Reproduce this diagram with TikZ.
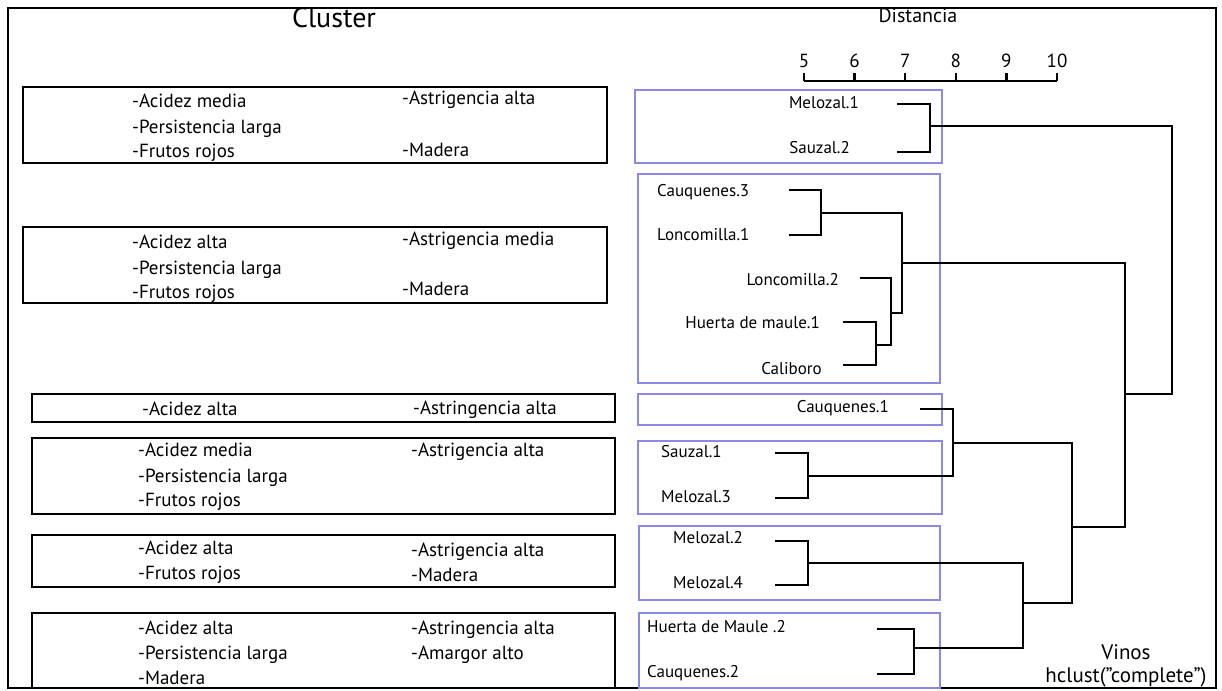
\documentclass[tikz,border=0pt]{standalone}
\usepackage{fontspec}
\setmainfont{PT Sans}
\usepackage{xcolor}
\definecolor{cajaazul}{RGB}{138,138,230}
\usepackage{tikz}
\usetikzlibrary{calc}
\newcommand{\tamrasgo}{\fontsize{19}{23}\selectfont}
\newcommand{\tamvino}{\fontsize{17}{21}\selectfont}
\tikzset{
    texto/.style={inner sep=0pt, anchor=base},
    rasgo/.style={texto, font=\tamrasgo, anchor=base west},
    vino/.style={texto, font=\tamvino, anchor=base west},
    vinoder/.style={texto, font=\tamvino, anchor=base east},
    caja/.style={draw, line width=2.5pt},
    grupo/.style={draw=cajaazul, line width=2.2pt},
    rama/.style={draw, line width=2.5pt},
    marco/.style={draw, line width=2.5pt}
}
\begin{document}
\begin{tikzpicture}[x=1pt, y=-1pt]
          \useasboundingbox (0,0) rectangle (1222,690);
          \draw[marco] (8,8) rectangle (1216,688);

          \node[texto, font=\fontsize{28}{30}\selectfont] (cluster) at (334,28) {Cluster};
          \node[texto, font=\fontsize{20}{22}\selectfont] (distancia) at (918,23) {Distancia};

          \draw[rama] (804,81) -- (1057,81);
          \foreach \d [count=\i from 0] in {5,...,10} {
              \draw[rama] (804+50.6*\i,73) -- (804+50.6*\i,81);
              \node[texto, font=\fontsize{19}{22}\selectfont] (eje\d) at (804+50.6*\i,68) {\d};
          }

          \draw[caja] (23,87) rectangle (607,163);
          \node[rasgo] (a1) at (132,107) {-Acidez media};
          \node[rasgo] (a2) at (132,133) {-Persistencia larga};
          \node[rasgo] (a3) at (132,157) {-Frutos rojos};
          \node[rasgo] (a4) at (402,105) {-Astrigencia alta};
          \node[rasgo] (a5) at (402,156) {-Madera};

          \draw[caja] (23,227) rectangle (607,303);
          \node[rasgo] (b1) at (132,248) {-Acidez alta};
          \node[rasgo] (b2) at (132,274) {-Persistencia larga};
          \node[rasgo] (b3) at (132,298) {-Frutos rojos};
          \node[rasgo] (b4) at (402,245) {-Astrigencia media};
          \node[rasgo] (b5) at (402,295) {-Madera};

          \draw[caja] (32,394) rectangle (615,422);
          \node[rasgo] (c1) at (142,415) {-Acidez alta};
          \node[rasgo] (c2) at (413,414) {-Astringencia alta};

          \draw[caja] (32,438) rectangle (615,514);
          \node[rasgo] (d1) at (138,456) {-Acidez media};
          \node[rasgo] (d2) at (138,482) {-Persistencia larga};
          \node[rasgo] (d3) at (138,506) {-Frutos rojos};
          \node[rasgo] (d4) at (411,456) {-Astrigencia alta};

          \draw[caja] (32,535) rectangle (615,587);
          \node[rasgo] (e1) at (138,554) {-Acidez alta};
          \node[rasgo] (e2) at (138,579) {-Frutos rojos};
          \node[rasgo] (e3) at (411,556) {-Astrigencia alta};
          \node[rasgo] (e4) at (411,581) {-Madera};

          \draw[caja] (32,613) rectangle (615,688);
          \node[rasgo] (f1) at (138,634) {-Acidez alta};
          \node[rasgo] (f2) at (138,659) {-Persistencia larga};
          \node[rasgo] (f3) at (138,684) {-Madera};
          \node[rasgo] (f4) at (411,634) {-Astringencia alta};
          \node[rasgo] (f5) at (411,659) {-Amargor alto};

          \draw[grupo] (635,90) rectangle (942,163);
          \draw[grupo] (638,174) rectangle (940,383);
          \draw[grupo] (638,394) rectangle (942,425);
          \draw[grupo] (638,441) rectangle (942,514);
          \draw[grupo] (639,526) rectangle (940,600);
          \draw[grupo] (639,613) rectangle (940,688);

          \node[vinoder] (tmel1) at (859,109) {Melozal.1};
          \node[vinoder] (tsau2) at (850,153) {Sauzal.2};
          \node[vino] (tcau3) at (657,196) {Cauquenes.3};
          \node[vino] (tlon1) at (657,240) {Loncomilla.1};
          \node[vinoder] (tlon2) at (839,285) {Loncomilla.2};
          \node[vinoder] (thue1) at (820,328) {Huerta de maule.1};
          \node[vinoder] (tcal) at (822,374) {Caliboro};
          \node[vinoder] (tcau1) at (889,412) {Cauquenes.1};
          \node[vino] (tsau1) at (661,457) {Sauzal.1};
          \node[vino] (tmel3) at (661,502) {Melozal.3};
          \node[vino] (tmel2) at (673,543) {Melozal.2};
          \node[vino] (tmel4) at (673,588) {Melozal.4};
          \node[vino] (thue2) at (647,632) {Huerta de Maule .2};
          \node[vino] (tcau2) at (647,677) {Cauquenes.2};

          \coordinate (mel1) at (897,104);
          \coordinate (sau2) at (897,152);
          \coordinate (cau3) at (789,190);
          \coordinate (lon1) at (789,235);
          \coordinate (lon2) at (860,278);
          \coordinate (hue1) at (843,322);
          \coordinate (cal) at (843,365);
          \coordinate (cau1) at (920,409);
          \coordinate (sau1) at (775,453);
          \coordinate (mel3) at (775,498);
          \coordinate (mel2) at (775,541);
          \coordinate (mel4) at (775,585);
          \coordinate (hue2) at (877,629);
          \coordinate (cau2) at (877,674);

          \coordinate (ja) at (930,126);
          \coordinate (jb) at (821,213);
          \coordinate (jc) at (876,345);
          \coordinate (jd) at (891,313);
          \coordinate (je) at (902,263);
          \coordinate (jf) at (808,476);
          \coordinate (jg) at (953,443);
          \coordinate (jh) at (808,563);
          \coordinate (ji) at (914,648);
          \coordinate (jj) at (1023,603);
          \coordinate (jk) at (1072,527);
          \coordinate (jl) at (1125,394);
          \coordinate (jm) at (1172,260);

          \draw[rama] (mel1) -| (ja) |- (sau2);
          \draw[rama] (cau3) -| (jb) |- (lon1);
          \draw[rama] (hue1) -| (jc) |- (cal);
          \draw[rama] (lon2) -| (jd) |- (jc);
          \draw[rama] (jb) -| (je) |- (jd);
          \draw[rama] (sau1) -| (jf) |- (mel3);
          \draw[rama] (cau1) -| (jg) |- (jf);
          \draw[rama] (mel2) -| (jh) |- (mel4);
          \draw[rama] (hue2) -| (ji) |- (cau2);
          \draw[rama] (jh) -| (jj) |- (ji);
          \draw[rama] (jg) -| (jk) |- (jj);
          \draw[rama] (je) -| (jl) |- (jk);
          \draw[rama] (ja) -| (jm) |- (jl);

          \node[texto, font=\fontsize{21}{24}\selectfont] (vinos) at (1126,659) {Vinos};
          \node[texto, font=\fontsize{21}{24}\selectfont] (hclust) at (1126,682) {hclust(”complete”)};
        \end{tikzpicture}
\end{document}
